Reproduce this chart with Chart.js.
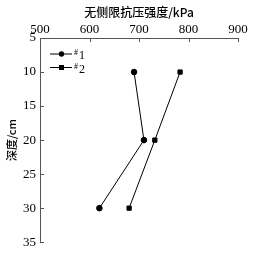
<!DOCTYPE html>
<html>
<head>
<meta charset="utf-8">
<script src="https://cdn.jsdelivr.net/npm/chart.js@4"></script>
<style>
html, body { margin: 0; padding: 0; background: #fff; }
#wrap { width: 254px; height: 254px; }
</style>
</head>
<body>
<div id="wrap"><canvas id="depth" width="254" height="254"></canvas></div>
<script>
// data
var depths = [10, 20, 30];
var series1 = [690, 710, 620];
var series2 = [783, 732, 680];
var seriesNames = ['1', '2'];
var xTicks = [500, 600, 700, 800, 900];
var yTicks = [5, 10, 15, 20, 25, 30, 35];

function pts(vals) {
    return vals.map(function (v, i) { return { x: v, y: depths[i] }; });
}

var serif = '"Liberation Serif", "DejaVu Serif", serif';

// short inward ticks plus the legend inside the plot
var extras = {
    id: 'extras',
    afterDraw: function (chart) {
        var c = chart.ctx, a = chart.chartArea;
        var xs = chart.scales.x, ys = chart.scales.y;
        c.save();
        c.strokeStyle = '#555';
        c.lineWidth = 1;
        c.beginPath();
        xTicks.forEach(function (t) {
            var px = Math.round(xs.getPixelForValue(t)) + 0.5;
            c.moveTo(px, a.top); c.lineTo(px, a.top + 4);
        });
        yTicks.forEach(function (t) {
            var py = Math.round(ys.getPixelForValue(t)) + 0.5;
            c.moveTo(a.left, py); c.lineTo(a.left + 4, py);
        });
        c.stroke();

        // legend
        chart.data.datasets.forEach(function (ds, i) {
            var y = 54 + i * 13.5;
            c.strokeStyle = '#000';
            c.beginPath();
            c.moveTo(50, y); c.lineTo(72, y);
            c.stroke();
            c.fillStyle = '#000';
            if (ds.pointStyle === 'rect') {
                c.fillRect(59, y - 2.5, 5, 5);
            } else {
                c.beginPath(); c.arc(61.5, y, 2.7, 0, Math.PI * 2); c.fill();
            }
            c.textBaseline = 'alphabetic';
            c.textAlign = 'left';
            c.font = '8px ' + serif;
            c.fillText('#', 74, y + 1);
            c.font = '12px ' + serif;
            c.fillText(seriesNames[i], 79, y + 5);
        });
        c.restore();
    }
};

var ctx = document.getElementById('depth').getContext('2d');
var chart = new Chart(ctx, {
    type: 'line',
    data: {
        datasets: [{
            label: '#1',
            data: pts(series1),
            borderColor: '#000',
            backgroundColor: '#000',
            borderWidth: 1,
            pointStyle: 'circle',
            pointRadius: 2.8,
            tension: 0
        }, {
            label: '#2',
            data: pts(series2),
            borderColor: '#000',
            backgroundColor: '#000',
            borderWidth: 1,
            pointStyle: 'rect',
            pointRadius: 3,
            tension: 0
        }]
    },
    plugins: [extras],
    options: {
        responsive: false,
        animation: false,
        layout: { padding: { top: 0, right: 16, bottom: 9, left: 0 } },
        plugins: { legend: { display: false }, tooltip: { enabled: false } },
        scales: {
            x: {
                type: 'linear',
                position: 'top',
                min: 500, max: 900,
                afterBuildTicks: function (s) { s.ticks = xTicks.map(function (v) { return { value: v }; }); },
                afterFit: function (s) { s.height = 38; },
                border: { display: true, color: '#555', width: 1 },
                grid: { display: false, drawTicks: false },
                ticks: { color: '#000', padding: 1, maxRotation: 0, font: { family: serif, size: 13 } },
                title: {
                    display: true,
                    text: '无侧限抗压强度/kPa',
                    color: '#000',
                    padding: { top: 5, bottom: 0 },
                    font: { family: '"Noto Sans CJK SC", serif', size: 12, weight: '500' }
                }
            },
            y: {
                type: 'linear',
                reverse: true,
                min: 5, max: 35,
                afterBuildTicks: function (s) { s.ticks = yTicks.map(function (v) { return { value: v }; }); },
                afterFit: function (s) { s.width = 40; },
                border: { display: true, color: '#555', width: 1 },
                grid: { display: false, drawTicks: false },
                ticks: { color: '#000', padding: 4, font: { family: serif, size: 13 } },
                title: {
                    display: true,
                    text: '深度/cm',
                    color: '#000',
                    padding: { top: 5, bottom: 0 },
                    font: { family: '"Noto Sans CJK SC", serif', size: 11, weight: '500' }
                }
            }
        }
    }
});
</script>
</body>
</html>
